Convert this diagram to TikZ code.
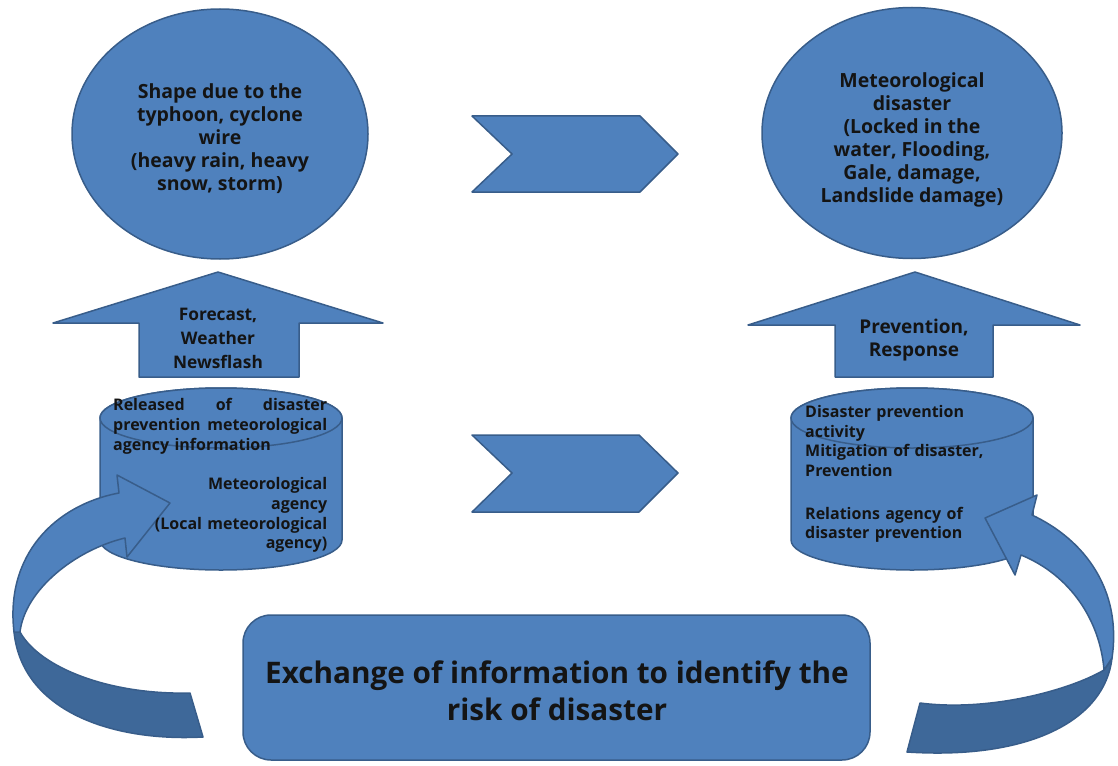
\documentclass[tikz,border=0pt]{standalone}
\usepackage{fontspec}
\setmainfont{Open Sans}
\usetikzlibrary{shapes.geometric}
\definecolor{boxfill}{HTML}{4F81BD}
\definecolor{boxline}{HTML}{385D8A}
\definecolor{backface}{HTML}{3E6899}
\definecolor{ink}{HTML}{141414}
\begin{document}
\begin{tikzpicture}[x=1pt,y=-1pt,
  shapestyle/.style={fill=boxfill, draw=boxline, line width=1.5pt, line join=round},
  backstyle/.style={fill=backface, draw=boxline, line width=1.5pt, line join=round},
  txt/.style={text=ink, align=center, inner sep=0pt},
  bigtxt/.style={txt, font=\bfseries\fontsize{19.5}{23}\selectfont},
  arrtxt/.style={txt, font=\bfseries\fontsize{17.3}{24}\selectfont},
  cyltxt/.style={text=ink, inner sep=0pt, anchor=north west, font=\bfseries\fontsize{16}{19.7}\selectfont},
]
\useasboundingbox (0,0) rectangle (1118,765);

% ---- top ellipses ----
\node[shapestyle, ellipse, minimum width=296pt, minimum height=250pt] (cause) at (220,134) {};
\node[bigtxt] (causetext) at (220,139) {Shape due to the\\typhoon, cyclone\\wire\\(heavy rain, heavy\\snow, storm)};
\node[shapestyle, ellipse, minimum width=300pt, minimum height=251pt] (effect) at (912,133) {};
\node[bigtxt] (effecttext) at (912,140) {Meteorological\\disaster\\(Locked in the\\water, Flooding,\\Gale, damage,\\Landslide damage)};

% ---- chevrons ----
\draw[shapestyle] (472,116) -- (640,116) -- (678,154) -- (640,192) -- (472,192) -- (512,154) -- cycle;
\draw[shapestyle] (472,435) -- (639,435) -- (678,473) -- (639,512) -- (472,512) -- (512,473) -- cycle;

% ---- up arrows ----
\draw[shapestyle] (218,272) -- (383,323) -- (299,323) -- (299,377) -- (139,377) -- (139,323) -- (53,323) -- cycle;
\node[arrtxt] (forecast) at (218,338) {Forecast,\\Weather\\Newsflash};
\draw[shapestyle] (915,272) -- (1080,325) -- (993,325) -- (993,377) -- (835,377) -- (835,325) -- (748,325) -- cycle;
\node[arrtxt, font=\bfseries\fontsize{19}{22.5}\selectfont] (prevention) at (914,340) {Prevention,\\Response};

% ---- cylinders ----
\draw[shapestyle] (100,418) -- (100,540) .. controls (100,556.6) and (154.2,570) .. (221,570)
  .. controls (287.8,570) and (342,556.6) .. (342,540) -- (342,418)
  .. controls (342,401.4) and (287.8,388) .. (221,388) .. controls (154.2,388) and (100,401.4) .. (100,418) -- cycle;
\draw[shapestyle] (221,418) ellipse [x radius=121, y radius=30];
\draw[shapestyle] (791,418) -- (791,540) .. controls (791,556.6) and (845.2,570) .. (912,570)
  .. controls (978.8,570) and (1033,556.6) .. (1033,540) -- (1033,418)
  .. controls (1033,401.4) and (978.8,388) .. (912,388) .. controls (845.2,388) and (791,401.4) .. (791,418) -- cycle;
\draw[shapestyle] (912,418) ellipse [x radius=121, y radius=30];

% ---- curved arrow, left ----
\draw[backstyle] (14,632) .. controls (22,710) and (110,742) .. (203,737) -- (190,693)
  .. controls (110,695) and (40,668) .. (20,632) -- cycle;
\draw[shapestyle] (119,493) .. controls (55,505) and (5,555) .. (14,632) -- (20,632)
  .. controls (25,590) and (75,550) .. (125,538) -- (127,557) -- (170,503) -- (117,475) -- cycle;

% ---- curved arrow, right ----
\draw[backstyle] (1112,658) .. controls (1105,720) and (1030,760) .. (907,752) -- (920,703)
  .. controls (990,712) and (1070,690) .. (1104,670) -- cycle;
\draw[shapestyle] (1032,515) .. controls (1085,540) and (1122,590) .. (1112,658) -- (1104,670)
  .. controls (1100,620) and (1070,575) .. (1021,555) -- (1015,575) -- (985,518) -- (1037,495) -- cycle;

% ---- cylinder texts ----
\node[cyltxt, text width=214pt] (released) at (113,398.5) {Released\hfill of\hfill disaster\\
  prevention\hfill meteorological\\ agency information\par\vspace{\baselineskip}
  {\raggedleft Meteorological\\ agency\\ (Local meteorological\\ agency)\par}};
\node[cyltxt, text width=215pt, font=\bfseries\fontsize{16}{19.5}\selectfont] (activity) at (805,405.5) {\raggedright Disaster prevention\\ activity\\
  Mitigation of disaster,\\ Prevention\par\vspace{23.5pt}
  Relations agency of\\ disaster prevention\par};

% ---- exchange box ----
\node[shapestyle, rounded corners=28pt, minimum width=627pt, minimum height=145pt] (exchange) at (556.5,687.5) {};
\node[txt, font=\bfseries\fontsize{29.7}{37}\selectfont] (exchangetext) at (557,691) {Exchange of information to identify the\\risk of disaster};
\end{tikzpicture}
\end{document}
